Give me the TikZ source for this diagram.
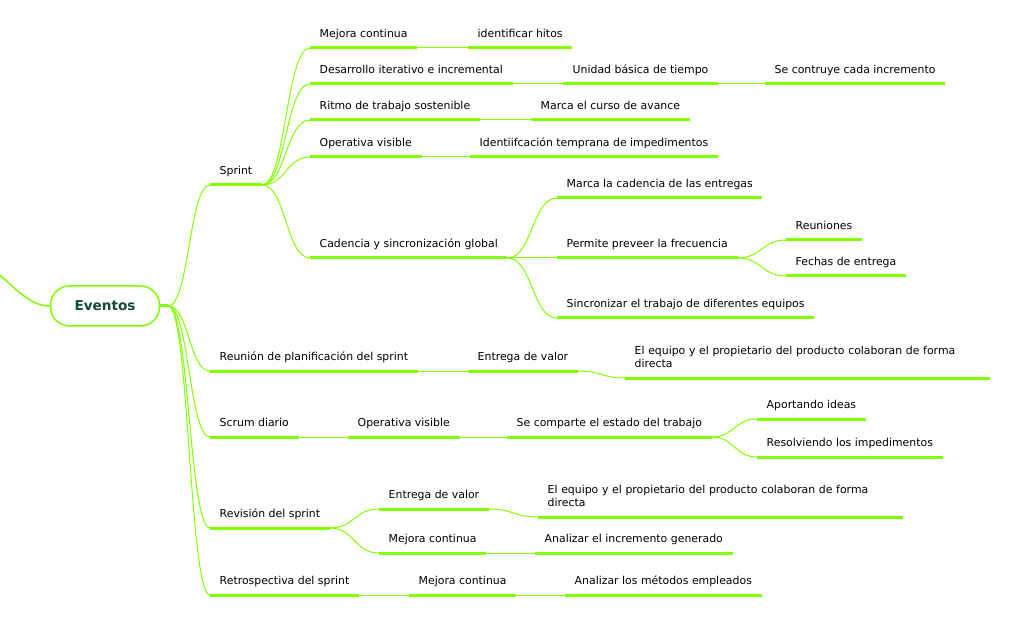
\documentclass[tikz,border=0pt]{standalone}
\usepackage{fontspec}
\setmainfont{DejaVu Sans}
\usetikzlibrary{calc}
\definecolor{branch}{HTML}{80FF00}
\definecolor{rootText}{HTML}{124A3C}
\hyphenpenalty=10000
\begin{document}
\begin{tikzpicture}
  [x=1pt,y=-1pt,
   Root/.style={draw=branch,line width=1.5pt,rounded corners=19pt,fill=white,minimum width=109pt,minimum height=40pt,font=\fontsize{13.6}{16}\selectfont\bfseries,text=rootText},
   Topic/.style={anchor=south west,inner xsep=9.5pt,inner ysep=7.5pt,text depth=2.5pt,font=\fontsize{10.9}{13}\selectfont},
   Wide/.style={anchor=south west,inner xsep=9.5pt,inner ysep=10pt,text width=346pt,align=left,font=\fontsize{10.9}{13}\selectfont},
   Bar/.style={draw=branch,line width=3pt},
   Link/.style={draw=branch,line width=1pt,to path={let \p1=(\tikztostart),\p2=(\tikztotarget) in .. controls ({(\x1+\x2)/2},\y1) and ({(\x1+\x2)/2},\y2) .. (\tikztotarget)}}]
  \useasboundingbox (0,0) rectangle (1033,617);
  \node[Root] (root) at (105,306) {Eventos};
  \coordinate (up) at (-10,267);
  \draw[draw=branch,line width=1.5pt] (up) .. controls (12,284) and (28,306) .. (root.west);
  \coordinate (hub) at ([xshift=8pt]root.east);
  % level 1
  \node[Topic] (sprint) at (210,185) {Sprint};
  \node[Topic] (reunion) at (210,371) {Reunión de planificación del sprint};
  \node[Topic] (scrum) at (210,437) {Scrum diario};
  \node[Topic] (revision) at (210,528) {Revisión del sprint};
  \node[Topic] (retro) at (210,595) {Retrospectiva del sprint};
  % sprint
  \node[Topic] (mejoraA) at (310,48) {Mejora continua};
  \node[Topic] (hitos) at (468,48) {identificar hitos};
  \node[Topic] (desarrollo) at (310,84) {Desarrollo iterativo e incremental};
  \node[Topic] (unidad) at (563,84) {Unidad básica de tiempo};
  \node[Topic] (construye) at (765,84) {Se contruye cada incremento};
  \node[Topic] (ritmo) at (310,120) {Ritmo de trabajo sostenible};
  \node[Topic] (curso) at (531,120) {Marca el curso de avance};
  \node[Topic] (operativaA) at (310,157) {Operativa visible};
  \node[Topic] (identif) at (470,157) {Identiifcación temprana de impedimentos};
  \node[Topic] (cadencia) at (310,258) {Cadencia y sincronización global};
  \node[Topic] (entregas) at (557,198) {Marca la cadencia de las entregas};
  \node[Topic] (preveer) at (557,258) {Permite preveer la frecuencia};
  \node[Topic] (reuniones) at (786,240) {Reuniones};
  \node[Topic] (fechas) at (786,276) {Fechas de entrega};
  \node[Topic] (sincro) at (557,318) {Sincronizar el trabajo de diferentes equipos};
  % reunion
  \node[Topic] (entregaA) at (468,371) {Entrega de valor};
  \node[Wide] (equipoA) at (625,378) {El equipo y el propietario del producto colaboran de forma directa};
  % scrum
  \node[Topic] (operativaB) at (348,437) {Operativa visible};
  \node[Topic] (comparte) at (507,437) {Se comparte el estado del trabajo};
  \node[Topic] (ideas) at (757,419) {Aportando ideas};
  \node[Topic] (resolviendo) at (757,457) {Resolviendo los impedimentos};
  % revision
  \node[Topic] (entregaB) at (379,509) {Entrega de valor};
  \node[Wide] (equipoB) at (538,517) {El equipo y el propietario del producto colaboran de forma directa};
  \node[Topic] (mejoraB) at (379,553) {Mejora continua};
  \node[Topic] (incremento) at (535,553) {Analizar el incremento generado};
  % retro
  \node[Topic] (mejoraC) at (409,595) {Mejora continua};
  \node[Topic] (metodos) at (565,595) {Analizar los métodos empleados};
  \foreach \k in {sprint,reunion,scrum,revision,retro,mejoraA,hitos,desarrollo,unidad,construye,ritmo,curso,operativaA,identif,cadencia,entregas,preveer,reuniones,fechas,sincro,entregaA,equipoA,operativaB,comparte,ideas,resolviendo,entregaB,equipoB,mejoraB,incremento,mejoraC,metodos}
    \draw[Bar] (\k.south west) -- (\k.south east);
  \draw[Bar] (root.east) -- (hub);
  \foreach \k in {sprint,reunion,scrum,revision,retro}
    \draw[Link] (hub) to (\k.south west);
  \foreach \k in {mejoraA,desarrollo,ritmo,operativaA,cadencia}
    \draw[Link] (sprint.south east) to (\k.south west);
  \draw[Link] (mejoraA.south east) to (hitos.south west);
  \draw[Link] (desarrollo.south east) to (unidad.south west);
  \draw[Link] (unidad.south east) to (construye.south west);
  \draw[Link] (ritmo.south east) to (curso.south west);
  \draw[Link] (operativaA.south east) to (identif.south west);
  \foreach \k in {entregas,preveer,sincro}
    \draw[Link] (cadencia.south east) to (\k.south west);
  \draw[Link] (preveer.south east) to (reuniones.south west);
  \draw[Link] (preveer.south east) to (fechas.south west);
  \draw[Link] (reunion.south east) to (entregaA.south west);
  \draw[Link] (entregaA.south east) to (equipoA.south west);
  \draw[Link] (scrum.south east) to (operativaB.south west);
  \draw[Link] (operativaB.south east) to (comparte.south west);
  \draw[Link] (comparte.south east) to (ideas.south west);
  \draw[Link] (comparte.south east) to (resolviendo.south west);
  \draw[Link] (revision.south east) to (entregaB.south west);
  \draw[Link] (revision.south east) to (mejoraB.south west);
  \draw[Link] (entregaB.south east) to (equipoB.south west);
  \draw[Link] (mejoraB.south east) to (incremento.south west);
  \draw[Link] (retro.south east) to (mejoraC.south west);
  \draw[Link] (mejoraC.south east) to (metodos.south west);
\end{tikzpicture}
\end{document}
